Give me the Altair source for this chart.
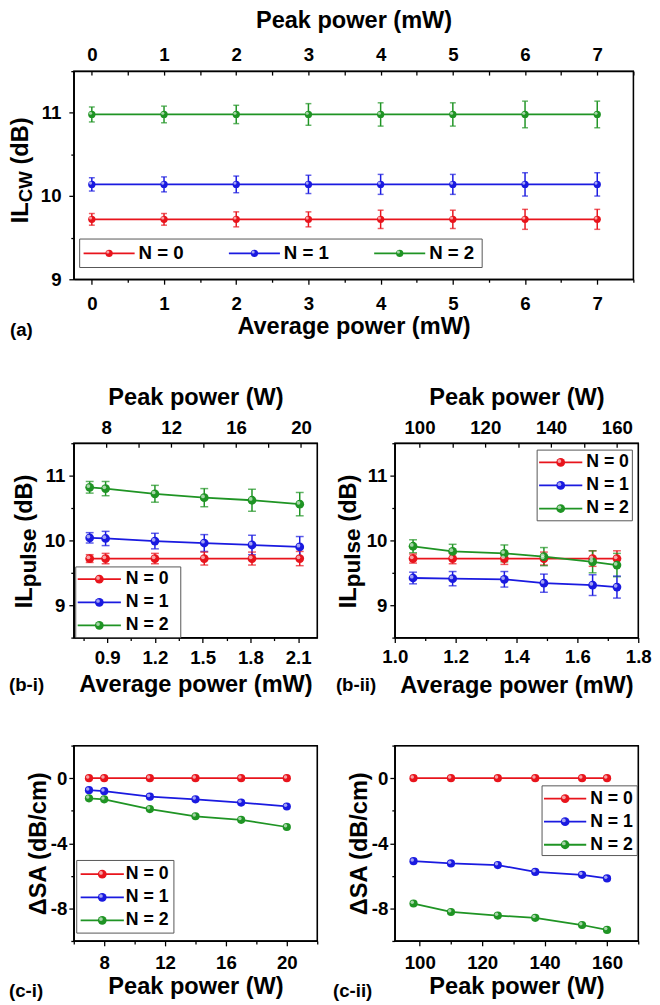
import altair as alt
import pandas as pd

FONT = "Liberation Sans, Arial, sans-serif"
N_LABELS = ["N = 0", "N = 1", "N = 2"]
COLORS = ["#e8141c", "#1a1ae0", "#1f9424"]

# ---------------- (a) CW ----------------
a_avg_power = [0, 1, 2, 3, 4, 5, 6, 7]
a_peak_power = [0, 1, 2, 3, 4, 5, 6, 7]
a_il_n0 = [9.72, 9.72, 9.72, 9.72, 9.72, 9.72, 9.72, 9.72]
a_il_n1 = [10.14, 10.14, 10.14, 10.14, 10.14, 10.14, 10.14, 10.14]
a_il_n2 = [10.98, 10.98, 10.98, 10.98, 10.98, 10.98, 10.98, 10.98]
a_err_n0 = [0.07, 0.07, 0.09, 0.09, 0.11, 0.11, 0.12, 0.12]
a_err_n1 = [0.08, 0.09, 0.10, 0.11, 0.12, 0.12, 0.14, 0.14]
a_err_n2 = [0.09, 0.10, 0.11, 0.13, 0.14, 0.14, 0.16, 0.16]

# ---------------- (b-i) pulse, low power ----------------
bi_avg_power = [0.79, 0.89, 1.20, 1.51, 1.81, 2.11]
bi_peak_power = [7, 8, 11, 14, 17, 20]
bi_il_n0 = [9.72, 9.72, 9.72, 9.72, 9.72, 9.72]
bi_il_n1 = [10.04, 10.03, 9.99, 9.96, 9.93, 9.90]
bi_il_n2 = [10.82, 10.80, 10.72, 10.66, 10.62, 10.56]
bi_err_n0 = [0.06, 0.08, 0.08, 0.10, 0.10, 0.11]
bi_err_n1 = [0.08, 0.11, 0.12, 0.13, 0.15, 0.16]
bi_err_n2 = [0.09, 0.11, 0.13, 0.14, 0.17, 0.18]

# ---------------- (b-ii) pulse, high power ----------------
bii_avg_power = [1.06, 1.19, 1.36, 1.49, 1.65, 1.73]
bii_peak_power = [98, 110, 125, 137, 152, 160]
bii_il_n0 = [9.72, 9.72, 9.72, 9.72, 9.72, 9.72]
bii_il_n1 = [9.42, 9.41, 9.40, 9.34, 9.31, 9.28]
bii_il_n2 = [9.91, 9.83, 9.80, 9.75, 9.67, 9.62]
bii_err_n0 = [0.07, 0.08, 0.09, 0.10, 0.12, 0.12]
bii_err_n1 = [0.09, 0.11, 0.12, 0.14, 0.16, 0.17]
bii_err_n2 = [0.10, 0.11, 0.13, 0.14, 0.17, 0.18]

# ---------------- (c-i) delta SA, low power ----------------
ci_peak_power = [7, 8, 11, 14, 17, 20]
ci_sa_n0 = [0.0, 0.0, 0.0, 0.0, 0.0, 0.0]
ci_sa_n1 = [-0.74, -0.80, -1.14, -1.30, -1.50, -1.74]
ci_sa_n2 = [-1.24, -1.30, -1.90, -2.34, -2.56, -3.00]

# ---------------- (c-ii) delta SA, high power ----------------
cii_peak_power = [98, 110, 125, 137, 152, 160]
cii_sa_n0 = [0.0, 0.0, 0.0, 0.0, 0.0, 0.0]
cii_sa_n1 = [-5.10, -5.24, -5.34, -5.76, -5.94, -6.16]
cii_sa_n2 = [-7.70, -8.22, -8.44, -8.58, -9.02, -9.32]

# tick values
a_x_ticks = [0, 0.5, 1, 1.5, 2, 2.5, 3, 3.5, 4, 4.5, 5, 5.5, 6, 6.5, 7, 7.5]
a_y_ticks = [9, 9.5, 10, 10.5, 11, 11.5]
bi_x_ticks = [0.75, 0.9, 1.05, 1.2, 1.35, 1.5, 1.65, 1.8, 1.95, 2.1]
bi_top_ticks = [6, 8, 10, 12, 14, 16, 18, 20]
bii_x_ticks = [1.0, 1.1, 1.2, 1.3, 1.4, 1.5, 1.6, 1.7, 1.8]
bii_top_ticks = [100, 110, 120, 130, 140, 150, 160]
b_y_ticks = [8.5, 9, 9.5, 10, 10.5, 11, 11.5]
ci_x_ticks = [6, 8, 10, 12, 14, 16, 18, 20, 22]
cii_x_ticks = [100, 110, 120, 130, 140, 150, 160, 170]
c_y_ticks = [-10, -8, -6, -4, -2, 0, 2]


def make_df(xa, xp, series, errs=None):
    rows = []
    for i, lab in enumerate(N_LABELS):
        for j in range(len(xa)):
            v = series[i][j]
            e = errs[i][j] if errs else 0.0
            rows.append(dict(avg=xa[j], peak=xp[j], val=v, lo=v - e, hi=v + e, N=lab))
    return pd.DataFrame(rows)


df_a = make_df(a_avg_power, a_peak_power, [a_il_n0, a_il_n1, a_il_n2], [a_err_n0, a_err_n1, a_err_n2])
df_bi = make_df(bi_avg_power, bi_peak_power, [bi_il_n0, bi_il_n1, bi_il_n2], [bi_err_n0, bi_err_n1, bi_err_n2])
df_bii = make_df(bii_avg_power, bii_peak_power, [bii_il_n0, bii_il_n1, bii_il_n2], [bii_err_n0, bii_err_n1, bii_err_n2])
df_ci = make_df(ci_peak_power, ci_peak_power, [ci_sa_n0, ci_sa_n1, ci_sa_n2])
df_cii = make_df(cii_peak_power, cii_peak_power, [cii_sa_n0, cii_sa_n1, cii_sa_n2])

CW = {'I': 278, 'L': 611, 'C': 722, 'W': 944, ' ': 278, '(': 333, ')': 333, 'd': 611,
      'B': 722, 'p': 611, 'u': 611, 'l': 278, 's': 556, 'e': 556}

ONE = pd.DataFrame({"k": [0]})


def tw(s, size):
    return sum(CW[c] for c in s) * size / 1000.0


def txt(text, x, y, size, angle=0, align="left", baseline="alphabetic"):
    return alt.Chart(ONE).mark_text(
        text=text, font=FONT, fontSize=size, fontWeight="bold", angle=angle,
        align=align, baseline=baseline, color="black"
    ).encode(x=alt.value(x), y=alt.value(y))


def ytitle(parts, cx, cy):
    # parts: (text, size, shift, gap_before)
    total = sum(tw(t, s) + g for t, s, sh, g in parts)
    base_x = cx + 0.358 * 24
    y = cy + total / 2
    out = []
    for t, s, sh, g in parts:
        y -= g
        out.append(txt(t, base_x + sh, y, s, angle=270))
        y -= tw(t, s)
    return out


def frame(w, h):
    return alt.Chart(ONE).mark_rect(fillOpacity=0, stroke="black", strokeWidth=1.3).encode(
        x=alt.value(0), x2=alt.value(w), y=alt.value(0), y2=alt.value(h))


def spacer(y0, y1):
    return alt.Chart(ONE).mark_rect(opacity=0).encode(
        x=alt.value(0), x2=alt.value(1), y=alt.value(y0), y2=alt.value(y1))


def legend_layers(bx, by, bw, bh, rows_y, line_x0, line_x1, label_x, msize=80, fsize=18):
    out = [alt.Chart(ONE).mark_rect(fill="white", stroke="#555555", strokeWidth=1).encode(
        x=alt.value(bx), x2=alt.value(bx + bw), y=alt.value(by), y2=alt.value(by + bh))]
    for (lab, colr, ry, lx0, lx1, tx) in zip(N_LABELS, COLORS, rows_y, line_x0, line_x1, label_x):
        out.append(alt.Chart(ONE).mark_rule(color=colr, strokeWidth=1.8).encode(
            x=alt.value(lx0), x2=alt.value(lx1), y=alt.value(ry)))
        cxm = (lx0 + lx1) / 2
        out.append(alt.Chart(ONE).mark_point(filled=True, color=colr, size=msize, opacity=1).encode(
            x=alt.value(cxm), y=alt.value(ry)))
        out.append(alt.Chart(ONE).mark_circle(color="white", size=msize * 0.18, opacity=0.6).encode(
            x=alt.value(cxm - 1.3), y=alt.value(ry - 1.3)))
        out.append(txt(lab, tx, ry, fsize, baseline="middle"))
    return out


def vlegend(bx, by, bw, bh, dy, step, ldx0, llen, ldx):
    rows = [by + dy + k * step for k in range(3)]
    return legend_layers(bx, by, bw, bh, rows, [bx + ldx0] * 3, [bx + ldx0 + llen] * 3, [bx + ldx] * 3)


def mk_axis(values, minor_test, fmt, orient, title=None, top=False, label_pad=4, title_pad=4, **kw):
    d = dict(values=values, orient=orient, labelExpr=f"({minor_test}) ? '' : {fmt}",
             labelOverlap=False, labelFlush=False, grid=False, labelPadding=label_pad,
             titlePadding=title_pad, title=title)
    if top:
        d["tickSize"] = {"expr": "-4"}
    else:
        d["tickSize"] = {"condition": {"test": minor_test, "value": 3}, "value": 5}
    d.update(kw)
    return alt.Axis(**d)


def panel(df, xfield, xdom, xax, ydom, yax, w, h, extras, top=None,
          errs=True, msize=80, cap=8):
    cs = alt.Scale(domain=N_LABELS, range=COLORS)
    xs = alt.Scale(domain=xdom, nice=False, zero=False)
    ys = alt.Scale(domain=ydom, nice=False, zero=False)
    X = alt.X(f"{xfield}:Q", scale=xs, axis=xax)
    col = alt.Color("N:N", scale=cs, legend=None)
    base = alt.Chart(df)
    layers = [frame(w, h)]
    if errs:
        layers.append(base.mark_rule(strokeWidth=1.5).encode(
            x=X, y=alt.Y("lo:Q", scale=ys, axis=yax), y2="hi:Q", color=col))
        for fld in ["lo", "hi"]:
            layers.append(base.mark_tick(orient="horizontal", size=cap, thickness=1.5).encode(
                x=X, y=alt.Y(f"{fld}:Q", scale=ys, axis=yax), color=col))
    Y = alt.Y("val:Q", scale=ys, axis=yax)
    layers.append(base.mark_line(strokeWidth=1.8).encode(x=X, y=Y, color=col))
    layers.append(base.mark_point(filled=True, size=msize, opacity=1, strokeWidth=1).encode(
        x=X, y=Y, color=col))
    layers.append(base.mark_circle(size=msize * 0.18, color="white", opacity=0.6,
                                   xOffset=-1.3, yOffset=-1.3).encode(x=X, y=Y))
    layers.extend(extras)
    inner = alt.layer(*layers)
    if top is not None:
        tdom, tax = top
        topl = base.mark_point(opacity=0).encode(
            x=alt.X("peak:Q", scale=alt.Scale(domain=tdom, nice=False, zero=False), axis=tax),
            y=alt.value(0))
        ch = alt.layer(inner, topl).resolve_scale(x="independent")
    else:
        ch = inner
    return ch.properties(width=w, height=h)


HALF = "datum.value % 1 != 0"
NUM = "'' + datum.value"

# ---- panel (a)
WA, HA = 570, 212
leg_a = legend_layers(6, 171, 410, 29, [185.5] * 3, [10, 158, 306], [62, 210, 358],
                      [66, 214, 362], msize=55, fsize=19)
pa = panel(
    df_a, "avg", [-0.25, 7.5],
    mk_axis(a_x_ticks, HALF, NUM, "bottom", "Average power (mW)", label_pad=11, title_pad=1),
    [9, 11.5], mk_axis(a_y_ticks, HALF, NUM, "left", label_pad=8),
    WA, HA,
    ytitle([("IL", 24, 0, 0), ("CW", 19, 4, 0), ("(dB)", 24, 0, 6.7)], -55, 101)
    + [txt("(a)", -65, HA + 52, 19, baseline="middle"), spacer(HA + 60, HA + 69)] + leg_a,
    top=([-0.25, 7.5], mk_axis(a_x_ticks, HALF, NUM, "top", "Peak power (mW)", top=True,
                               label_pad=11, title_pad=13)),
    msize=55, cap=6)

# ---- panel (b-i)
WB, HB = 248, 198
T015 = "abs(datum.value*10/3 - round(datum.value*10/3)) > 0.01"
T02 = "abs(datum.value*5 - round(datum.value*5)) > 0.01"
F1 = "format(datum.value, '.1f')"
pbi = panel(
    df_bi, "avg", [0.69, 2.22],
    mk_axis(bi_x_ticks, T015, F1, "bottom", "Average power (mW)", label_pad=6, title_pad=6),
    [8.5, 11.5], mk_axis(b_y_ticks, HALF, NUM, "left", label_pad=4),
    WB, HB,
    ytitle([("IL", 24, 0, 0), ("pulse", 23, 4, 0), ("(dB)", 24, 0, 6.7)], -51, 100)
    + [txt("(b-i)", -66, HB + 48, 19, baseline="middle")]
    + vlegend(2, 126, 107, 72, 12.5, 23.5, 2, 44, 51),
    top=([6, 21], mk_axis(bi_top_ticks, "datum.value % 4 != 0", NUM, "top", "Peak power (W)",
                          top=True, label_pad=10, title_pad=9)))

pbii = panel(
    df_bii, "avg", [1.0, 1.8],
    mk_axis(bii_x_ticks, T02, F1, "bottom", "Average power (mW)", label_pad=5, title_pad=8),
    [8.5, 11.5], mk_axis(b_y_ticks, HALF, NUM, "left", label_pad=3),
    WB, HB,
    ytitle([("IL", 24, 0, 0), ("pulse", 23, 4, 0), ("(dB)", 24, 0, 6.7)], -48, 100)
    + [txt("(b-ii)", -60, HB + 48, 19, baseline="middle")]
    + vlegend(145, 7, 97, 72, 12.5, 23.5, 2, 44, 50),
    top=([92.5, 166.5], mk_axis(bii_top_ticks, "datum.value % 20 != 0", NUM, "top",
                                "Peak power (W)", top=True, label_pad=10, title_pad=9)))

# ---- panels (c)
WC, HC = 248, 199
ycax_i = mk_axis(c_y_ticks, "datum.value % 4 != 0", NUM, "left", "ΔSA (dB/cm)", label_pad=2,
                 title_pad=1, titleX=-36, titleBaseline="middle")
ycax_ii = mk_axis(c_y_ticks, "datum.value % 4 != 0", NUM, "left", "ΔSA (dB/cm)", label_pad=2,
                  title_pad=1, titleX=-36, titleBaseline="middle")
pci = panel(
    df_ci, "peak", [6, 22],
    mk_axis(ci_x_ticks, "datum.value % 4 != 0", NUM, "bottom", "Peak power (W)", label_pad=8, title_pad=3),
    [-10, 2], ycax_i, WC, HC,
    [txt("(c-i)", -66, HC + 51, 19, baseline="middle")]
    + vlegend(3, 117, 99, 74, 14, 23.5, 4, 44, 50),
    errs=False, msize=70)
pcii = panel(
    df_cii, "peak", [92, 170],
    mk_axis(cii_x_ticks, "datum.value % 20 != 0", NUM, "bottom", "Peak power (W)", label_pad=8, title_pad=3),
    [-10, 2], ycax_ii, WC, HC,
    [txt("(c-ii)", -63, HC + 51, 19, baseline="middle")]
    + vlegend(150, 41, 97, 71, 13, 23.5, 2, 43, 49),
    errs=False, msize=70)

row_b = alt.hconcat(pbi, pbii, spacing=16)
row_c = alt.hconcat(pci, pcii, spacing=13)

chart = alt.vconcat(pa, row_b, row_c, spacing=38)
chart = chart.properties(padding={"top": -9, "left": 0, "right": 0, "bottom": 0}).configure_view(
    stroke="black", strokeWidth=1.3
).configure_axis(
    domainColor="black", domainWidth=1.3, tickColor="black", tickWidth=1.3,
    labelFont=FONT, labelFontSize=19, labelFontWeight="bold", labelColor="black",
    titleFont=FONT, titleFontSize=24, titleFontWeight="bold", titleColor="black", grid=False
).configure_text(font=FONT)

chart.save("out.html", embed_options={"renderer": "svg", "actions": False})
